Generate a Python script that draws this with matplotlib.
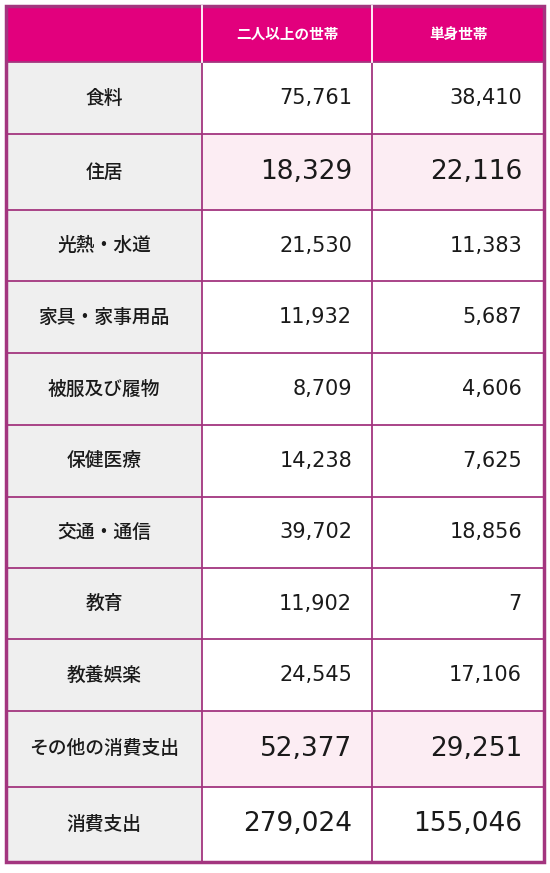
import matplotlib.pyplot as plt
from matplotlib.patches import Rectangle

plt.rcParams['font.family'] = ['Noto Sans CJK JP', 'DejaVu Sans']

categories = ["食料", "住居", "光熱・水道", "家具・家事用品", "被服及び履物", "保健医療",
              "交通・通信", "教育", "教養娯楽", "その他の消費支出", "消費支出"]
multi = [75761, 18329, 21530, 11932, 8709, 14238, 39702, 11902, 24545, 52377, 279024]
single = [38410, 22116, 11383, 5687, 4606, 7625, 18856, 7, 17106, 29251, 155046]
headers = ["二人以上の世帯", "単身世帯"]
big_rows = ["住居", "その他の消費支出", "消費支出"]
pink_rows = ["住居", "その他の消費支出"]

# 行の境界（ピクセル）
row_edges = [62, 134, 210, 281, 353, 425, 497, 568, 639, 711, 787, 862]
col_edges = [6, 202, 372, 544]
top = 6

fig = plt.figure(figsize=(5.5, 8.73), dpi=100)
ax = fig.add_axes([0, 0, 1, 1])
ax.set_xlim(0, 550)
ax.set_ylim(873, 0)
ax.axis('off')

border = "#A3357F"
header_col = "#E2007D"

ax.add_patch(Rectangle((col_edges[0], top), col_edges[-1] - col_edges[0], row_edges[0] - top,
                       facecolor=header_col, edgecolor='none'))
for j, h in enumerate(headers):
    cx = (col_edges[j + 1] + col_edges[j + 2]) / 2
    ax.text(cx, (top + row_edges[0]) / 2, h, color='white', fontsize=10.5, fontweight='bold',
            ha='center', va='center')

for i, cat in enumerate(categories):
    y0, y1 = row_edges[i], row_edges[i + 1]
    cy = (y0 + y1) / 2
    ax.add_patch(Rectangle((col_edges[0], y0), col_edges[1] - col_edges[0], y1 - y0,
                           facecolor="#EFEFEF", edgecolor='none'))
    vbg = "#FCEDF3" if cat in pink_rows else "white"
    ax.add_patch(Rectangle((col_edges[1], y0), col_edges[3] - col_edges[1], y1 - y0,
                           facecolor=vbg, edgecolor='none'))
    ax.text((col_edges[0] + col_edges[1]) / 2, cy, cat, fontsize=13.5, fontweight='medium',
            ha='center', va='center', color='#1a1a1a')
    fs = 19 if cat in big_rows else 15
    ax.text(352, cy, f"{multi[i]:,}", fontsize=fs, ha='right', va='center', color='#1a1a1a',
            family='DejaVu Sans')
    ax.text(522, cy, f"{single[i]:,}", fontsize=fs, ha='right', va='center', color='#1a1a1a',
            family='DejaVu Sans')

for y in row_edges[:-1]:
    ax.plot([col_edges[0], col_edges[-1]], [y, y], color=border, lw=1.3)
for x in col_edges[1:-1]:
    ax.plot([x, x], [row_edges[0], row_edges[-1]], color=border, lw=1.3)
for x in col_edges[1:-1]:
    ax.plot([x, x], [top, row_edges[0]], color='white', lw=1.3)
ax.add_patch(Rectangle((col_edges[0], top), col_edges[-1] - col_edges[0], row_edges[-1] - top,
                       facecolor='none', edgecolor=border, lw=2.5))

fig.savefig("out.png", dpi=100)
